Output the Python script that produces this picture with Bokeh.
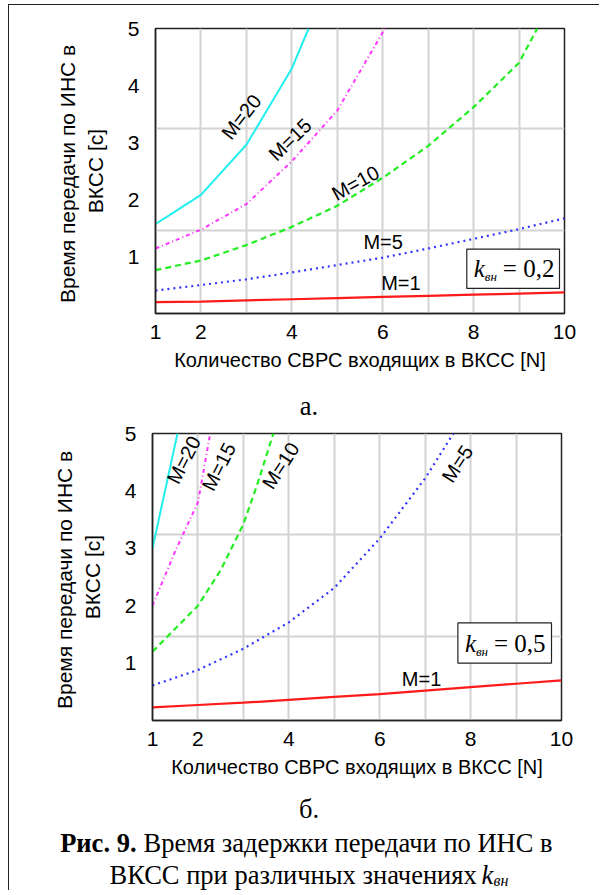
from bokeh.plotting import figure
from bokeh.models import Range1d, FixedTicker, Label, BoxAnnotation
from bokeh.layouts import column
from bokeh.embed import file_html
from bokeh.resources import INLINE

# ---------------- data ----------------
N_full = [1, 2, 3, 4, 5, 6, 7, 8, 9, 10]

# panel а: k_вн = 0,2
a_m1_n = N_full
a_m1_t = [0.20, 0.21, 0.23, 0.25, 0.27, 0.29, 0.31, 0.33, 0.35, 0.37]
a_m5_n = N_full
a_m5_t = [0.40, 0.50, 0.60, 0.72, 0.85, 0.98, 1.14, 1.31, 1.48, 1.67]
a_m10_n = [1, 2, 3, 4, 5, 6, 7, 8, 9, 9.4]
a_m10_t = [0.76, 0.93, 1.20, 1.52, 1.89, 2.38, 2.94, 3.62, 4.40, 5.0]
a_m15_n = [1, 2, 3, 4, 5, 6.05]
a_m15_t = [1.14, 1.47, 1.92, 2.67, 3.56, 5.0]
a_m20_n = [1, 1.3, 2, 3, 4, 4.37]
a_m20_t = [1.57, 1.72, 2.08, 2.96, 4.30, 5.0]

# panel б: k_вн = 0,5
b_m1_n = N_full
b_m1_t = [0.23, 0.27, 0.31, 0.36, 0.41, 0.46, 0.52, 0.58, 0.64, 0.70]
b_m5_n = [1, 2, 3, 4, 5, 6, 7, 7.62]
b_m5_t = [0.61, 0.88, 1.25, 1.71, 2.31, 3.17, 4.22, 5.0]
b_m10_n = [1, 1.5, 2, 2.5, 3, 3.3, 3.66]
b_m10_t = [1.20, 1.60, 2.00, 2.62, 3.42, 4.10, 5.0]
b_m15_n = [1, 1.5, 2, 2.27]
b_m15_t = [2.00, 2.95, 3.80, 5.0]
b_m20_n = [1, 1.55]
b_m20_t = [3.00, 5.0]

x_tick_labels = [1, 2, 4, 6, 8, 10]
y_tick_labels = [1, 2, 3, 4, 5]
x_grid = [2, 3, 4, 5, 6, 7, 8, 9]
y_grid = [1.46, 3.24]

series_names = ["M=1", "M=5", "M=10", "M=15", "M=20"]

# ---------------- styles ----------------
SANS = "Liberation Sans"
SERIF = "Liberation Serif"
W = 590
STY = {
    "M=1": dict(line_color="#ff1a1a", line_width=2.2),
    "M=5": dict(line_color="#3333ff", line_width=2.2, line_dash="2 4"),
    "M=10": dict(line_color="#22ee22", line_width=2.2, line_dash="6 4"),
    "M=15": dict(line_color="#ff33ff", line_width=2.0, line_dash="4 3 1 3"),
    "M=20": dict(line_color="#22eeee", line_width=2.0),
}


def no_align(p):
    if "frame_align" in p.properties():
        p.frame_align = False
    return p


def make_panel(height, mb, series, labels, box, kval):
    p = figure(width=W, height=height, output_backend="svg",
               toolbar_location=None, x_range=Range1d(1, 10), y_range=Range1d(0, 5),
               min_border_left=mb[0], min_border_right=mb[1],
               min_border_top=mb[2], min_border_bottom=mb[3],
               background_fill_color="white", border_fill_color="white")
    no_align(p)
    p.outline_line_color = "#222222"
    p.outline_line_width = 1.5
    p.outline_line_alpha = 1.0
    for ax, ticks in ((p.xaxis, x_tick_labels), (p.yaxis, y_tick_labels)):
        ax.ticker = FixedTicker(ticks=ticks)
        ax.major_tick_line_color = None
        ax.minor_tick_line_color = None
        ax.axis_line_color = "#222222"
        ax.axis_line_width = 1.5
        ax.major_label_text_font = SANS
        ax.major_label_text_font_size = "21px"
        ax.major_label_text_color = "black"
        ax.axis_label_text_font = SANS
        ax.axis_label_text_font_style = "normal"
        ax.axis_label_text_color = "black"
    p.xaxis.axis_label_text_font_size = "20px"
    p.yaxis.axis_label_text_font_size = "21px"
    p.xaxis.axis_label = "Количество СВРС входящих в ВКСС [N]"
    p.yaxis.axis_label = "Время передачи по  ИНС в\nВКСС [c]"
    p.xaxis.major_label_standoff = 5
    p.xaxis.axis_label_standoff = 7
    p.yaxis.major_label_standoff = 10
    p.yaxis.axis_label_standoff = 18
    p.xgrid.ticker = FixedTicker(ticks=x_grid)
    p.ygrid.ticker = FixedTicker(ticks=y_grid)
    for g in (p.xgrid, p.ygrid):
        g.grid_line_color = "#d3d3d3"
        g.grid_line_width = 2

    for name in series_names:
        xs, ys = series[name]
        p.line(xs, ys, **STY[name])

    for text, x, y, ang in labels:
        p.add_layout(Label(x=x, y=y, text=text, angle=ang, angle_units="deg",
                           text_align="center", text_baseline="middle",
                           text_font=SANS, text_font_size="20px", text_color="black"))

    left, right, top, bottom = box
    p.add_layout(BoxAnnotation(left=left, right=right, top=top, bottom=bottom,
                               fill_color="white", fill_alpha=1.0,
                               line_color="#222222", line_width=1.2, line_alpha=1.0))
    cy = (top + bottom) / 2
    p.add_layout(Label(x=left, y=cy, x_offset=7, y_offset=0, text="k",
                       text_align="left", text_baseline="middle",
                       text_font=SERIF, text_font_style="italic",
                       text_font_size="25px", text_color="black"))
    p.add_layout(Label(x=left, y=cy, x_offset=18, y_offset=-8, text="вн",
                       text_align="left", text_baseline="middle",
                       text_font=SERIF, text_font_style="italic",
                       text_font_size="13px", text_color="black"))
    p.add_layout(Label(x=left, y=cy, x_offset=36, y_offset=0, text="= " + kval,
                       text_align="left", text_baseline="middle",
                       text_font=SERIF, text_font_size="25px", text_color="black"))
    return p


def text_panel(height):
    c = figure(width=W, height=height, output_backend="svg", toolbar_location=None,
               x_range=Range1d(0, W), y_range=Range1d(0, height),
               x_axis_location=None, y_axis_location=None, min_border=0,
               background_fill_color="white", border_fill_color="white")
    no_align(c)
    c.outline_line_color = None
    c.xgrid.visible = False
    c.ygrid.visible = False
    return c


cap_kw = dict(text_baseline="middle", text_font=SERIF, text_font_size="26.5px", text_color="black")

# panel а
a_series = {"M=1": (a_m1_n, a_m1_t), "M=5": (a_m5_n, a_m5_t), "M=10": (a_m10_n, a_m10_t),
            "M=15": (a_m15_n, a_m15_t), "M=20": (a_m20_n, a_m20_t)}
a_labels = [("M=20", 2.89, 3.45, 52), ("M=15", 3.96, 3.05, 44), ("M=10", 5.40, 2.29, 29),
            ("M=5", 6.01, 1.25, 0), ("M=1", 6.40, 0.53, 0)]
a_box = (7.85, 9.89, 1.13, 0.44)
p1 = make_panel(368, (146, 35, 23, 57), a_series, a_labels, a_box, "0,2")

cap_a = text_panel(50)
cap_a.add_layout(Label(x=299.5, y=18, text="а.", text_align="center", **cap_kw))

# panel б
b_series = {"M=1": (b_m1_n, b_m1_t), "M=5": (b_m5_n, b_m5_t), "M=10": (b_m10_n, b_m10_t),
            "M=15": (b_m15_n, b_m15_t), "M=20": (b_m20_n, b_m20_t)}
b_labels = [("M=20", 1.69, 4.54, 63), ("M=15", 2.46, 4.42, 63), ("M=10", 3.82, 4.44, 57),
            ("M=5", 7.71, 4.47, 57), ("M=1", 6.92, 0.73, 0)]
b_box = (7.72, 9.78, 1.70, 1.00)
p2 = make_panel(357, (143, 38, 10, 55), b_series, b_labels, b_box, "0,5")

cap_b = text_panel(110)
cap_b.add_layout(Label(x=299.5, y=82, text="б.", text_align="center", **cap_kw))
cap_b.add_layout(Label(x=127, y=48, text="Рис. 9.", text_align="right",
                       text_font_style="bold", **cap_kw))
cap_b.add_layout(Label(x=134, y=48, text="Время задержки передачи по ИНС в",
                       text_align="left", **cap_kw))
cap_b.add_layout(Label(x=100, y=16, text="ВКСС при различных значениях",
                       text_align="left", **cap_kw))
cap_b.add_layout(Label(x=472, y=16, text="k", text_align="left",
                       text_font_style="italic", **cap_kw))
cap_b.add_layout(Label(x=484, y=10, text="вн", text_align="left", text_baseline="middle",
                       text_font=SERIF, text_font_style="italic", text_font_size="16px",
                       text_color="black"))

layout = column(column(p1), column(cap_a), column(p2), column(cap_b), spacing=0,
                styles={"border-top": "1.5px solid #222", "border-left": "1.5px solid #222",
                        "margin-left": "8px", "margin-top": "4px"})
open("out.html", "w").write(file_html(layout, INLINE))
